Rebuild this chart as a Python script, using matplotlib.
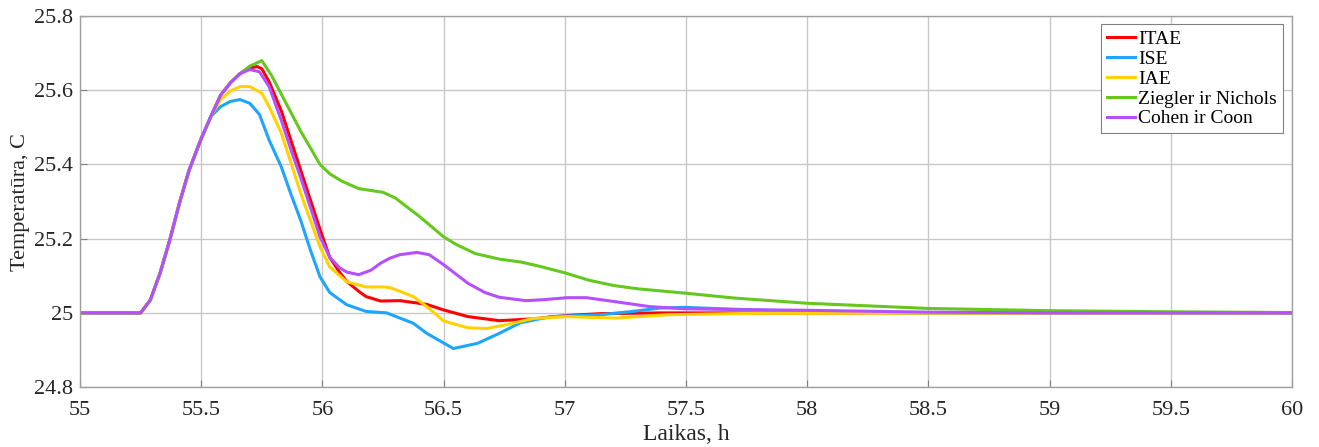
import matplotlib.pyplot as plt
from matplotlib.ticker import FuncFormatter

plt.rcParams['font.family'] = ['Liberation Serif', 'DejaVu Serif']

# Shared step response start (all controllers identical here)
x_start = [55.0, 55.25, 55.29, 55.33, 55.37, 55.41, 55.45, 55.5, 55.54]
y_start = [25.0, 25.0, 25.035, 25.107, 25.196, 25.296, 25.385, 25.47, 25.53]

itae_x = x_start + [55.58, 55.62, 55.66, 55.7, 55.73, 55.75, 55.78, 55.83, 55.87, 55.91, 55.95, 55.99,
                    56.03, 56.07, 56.1, 56.15, 56.18, 56.24, 56.32, 56.43, 56.5, 56.6, 56.73, 56.87,
                    57.01, 57.15, 57.4, 58.0, 60.0]
itae_y = y_start + [25.587, 25.62, 25.645, 25.66, 25.664, 25.658, 25.623, 25.545, 25.465, 25.385, 25.305, 25.225,
                    25.15, 25.11, 25.085, 25.058, 25.044, 25.032, 25.033, 25.023, 25.008, 24.99, 24.979, 24.984,
                    24.993, 24.998, 25.0, 25.0, 25.0]

ise_x = x_start + [55.58, 55.62, 55.66, 55.7, 55.74, 55.78, 55.83, 55.87, 55.91, 55.95, 55.99, 56.03,
                   56.1, 56.18, 56.265, 56.32, 56.375, 56.43, 56.54, 56.64, 56.73, 56.815, 56.94, 57.145,
                   57.28, 57.39, 57.49, 57.7, 57.97, 58.5, 59.0, 60.0]
ise_y = y_start + [25.556, 25.57, 25.575, 25.565, 25.535, 25.466, 25.394, 25.32, 25.25, 25.17, 25.097, 25.055,
                   25.022, 25.004, 25.0, 24.986, 24.972, 24.945, 24.904, 24.918, 24.945, 24.973, 24.99, 24.995,
                   25.004, 25.013, 25.015, 25.01, 25.004, 24.999, 25.0, 25.0]

iae_x = x_start + [55.58, 55.62, 55.66, 55.7, 55.75, 55.78, 55.83, 55.87, 55.91, 55.95, 55.99, 56.03,
                   56.1, 56.18, 56.25, 56.28, 56.32, 56.375, 56.44, 56.5, 56.6, 56.68, 56.77, 56.87,
                   57.01, 57.21, 57.42, 57.8, 60.0]
iae_y = y_start + [25.575, 25.598, 25.61, 25.61, 25.592, 25.556, 25.485, 25.405, 25.323, 25.25, 25.178, 25.124,
                   25.084, 25.07, 25.07, 25.068, 25.058, 25.044, 25.012, 24.978, 24.96, 24.958, 24.97, 24.985,
                   24.99, 24.986, 24.995, 24.999, 25.0]

zn_x = x_start + [55.58, 55.62, 55.66, 55.7, 55.75, 55.79, 55.83, 55.87, 55.91, 55.95, 55.99, 56.03,
                  56.08, 56.15, 56.25, 56.3, 56.4, 56.5, 56.55, 56.63, 56.73, 56.82, 56.9, 57.0,
                  57.1, 57.2, 57.3, 57.5, 57.7, 58.0, 58.5, 59.0, 59.5, 60.0]
zn_y = y_start + [25.587, 25.62, 25.645, 25.665, 25.68, 25.64, 25.59, 25.54, 25.49, 25.445, 25.40, 25.375,
                  25.355, 25.335, 25.325, 25.31, 25.26, 25.205, 25.185, 25.16, 25.145, 25.137, 25.125, 25.108,
                  25.088, 25.074, 25.065, 25.053, 25.04, 25.026, 25.012, 25.006, 25.003, 25.001]

cc_x = x_start + [55.58, 55.62, 55.66, 55.7, 55.74, 55.78, 55.83, 55.87, 55.91, 55.95, 55.99, 56.03,
                  56.07, 56.1, 56.15, 56.2, 56.24, 56.28, 56.32, 56.39, 56.44, 56.5, 56.6, 56.67,
                  56.73, 56.84, 56.92, 57.01, 57.09, 57.21, 57.35, 57.49, 57.7, 58.0, 58.5, 59.0, 60.0]
cc_y = y_start + [25.587, 25.62, 25.645, 25.656, 25.65, 25.61, 25.52, 25.44, 25.365, 25.285, 25.205, 25.15,
                  25.122, 25.11, 25.103, 25.115, 25.134, 25.148, 25.157, 25.163, 25.157, 25.13, 25.08, 25.055,
                  25.042, 25.033, 25.036, 25.041, 25.041, 25.03, 25.017, 25.011, 25.009, 25.007, 25.002, 25.0, 25.0]

labels = ["ITAE", "ISE", "IAE", "Ziegler ir Nichols", "Cohen ir Coon"]
colors = ["#FF0000", "#1EA5FF", "#FFD200", "#64C81E", "#B450FF"]

fig = plt.figure(figsize=(13.19, 4.47), dpi=100)
ax = fig.add_axes([0.0607, 0.134, 0.9188, 0.830])

series = [(itae_x, itae_y), (ise_x, ise_y), (iae_x, iae_y), (zn_x, zn_y), (cc_x, cc_y)]
for (xs, ys), lab, col in zip(series, labels, colors):
    ax.plot(xs, ys, color=col, lw=2.2, label=lab)

ax.set_xlim(55, 60)
ax.set_ylim(24.8, 25.8)
ax.set_xticks([55 + 0.5 * i for i in range(11)])
ax.set_yticks([24.8, 25.0, 25.2, 25.4, 25.6, 25.8])
fmt = FuncFormatter(lambda v, p: f"{v:g}")
ax.xaxis.set_major_formatter(fmt)
ax.yaxis.set_major_formatter(fmt)
ax.tick_params(direction="in", labelsize=16, colors="#808080", length=5, width=0.8)
ax.tick_params(labelcolor="#262626")
ax.tick_params(axis="y", pad=5)
ax.tick_params(axis="x", pad=10)
ax.grid(True, color="#c8c8c8", lw=1.0)
ax.set_axisbelow(True)
for s in ax.spines.values():
    s.set_color("#a0a0a0")
    s.set_linewidth(1.0)

ax.set_xlabel("Laikas, h", fontsize=17, color="#262626", labelpad=3)
ax.set_ylabel("Temperatūra, C", fontsize=16, color="#262626", labelpad=3)

leg = ax.legend(loc="upper right", fontsize=14, fancybox=False, framealpha=1,
                edgecolor="#808080", handlelength=1.45, handletextpad=0.15,
                borderpad=0.3, labelspacing=0.12, borderaxespad=0,
                bbox_to_anchor=(0.9926, 0.978))
leg.get_frame().set_linewidth(0.8)

plt.savefig("out.png", dpi=100)
